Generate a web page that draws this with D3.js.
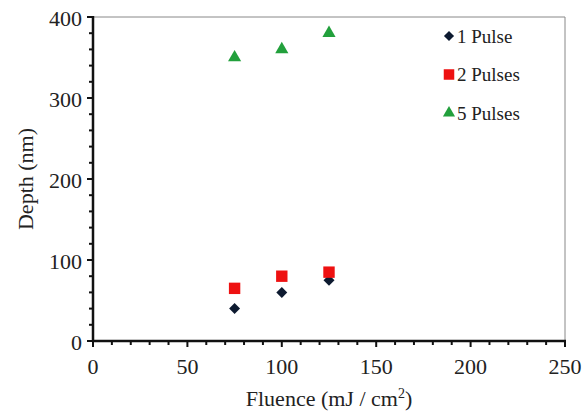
<!DOCTYPE html>
<html>
<head>
<meta charset="utf-8">
<script src="https://cdn.jsdelivr.net/npm/d3@7"></script>
<style>
  body { margin: 0; background: #fff; }
</style>
</head>
<body>
<svg id="svg" width="582" height="414"></svg>
<script>
// DATA
const fluence = [75, 100, 125];
const pulse1 = [40, 60, 75];
const pulse2 = [65, 80, 85];
const pulse5 = [350, 360, 380];
const seriesNames = ["1 Pulse", "2 Pulses", "5 Pulses"];
const xTicks = [0, 50, 100, 150, 200, 250];
const yTicks = [0, 100, 200, 300, 400];

const margin = { left: 93, top: 17, right: 17, bottom: 73 };
const W = 582, H = 414;
const FONT = "'Liberation Serif'";
const textColor = "#222";

const x = d3.scaleLinear().domain([0, 250]).range([margin.left, W - margin.right]);
const y = d3.scaleLinear().domain([0, 400]).range([H - margin.bottom, margin.top]);

const svg = d3.select("#svg");

// diamond = square turned 45 degrees
const diamond = {
  draw(ctx, size) {
    const r = Math.sqrt(size / 2);
    ctx.moveTo(0, -r); ctx.lineTo(r, 0); ctx.lineTo(0, r); ctx.lineTo(-r, 0); ctx.closePath();
  }
};

const series = [
  { name: seriesNames[0], values: pulse1, symbol: diamond, size: 60, color: "#0d1a30" },
  { name: seriesNames[1], values: pulse2, symbol: d3.symbolSquare, size: 130, color: "#ee1111" },
  { name: seriesNames[2], values: pulse5, symbol: d3.symbolTriangle, size: 75, color: "#22a03c" }
];

function txt(sel, size) {
  return sel.style("font-family", FONT).style("font-size", size + "px").attr("fill", textColor);
}

// frame (top / right thin grey)
svg.append("path")
  .attr("d", `M${x(0)},${y(400)}H${x(250)}V${y(0)}`)
  .attr("fill", "none")
  .attr("stroke", "#888")
  .attr("stroke-width", 1);

const gx = svg.append("g").attr("transform", `translate(0,${y(0)})`);
gx.selectAll("line")
  .data(d3.range(0, 251, 10))
  .join("line")
  .attr("x1", d => x(d)).attr("x2", d => x(d))
  .attr("y1", 0).attr("y2", d => d % 50 === 0 ? 6 : 4)
  .attr("stroke", "#111").attr("stroke-width", 2);
gx.append("line")
  .attr("x1", x(0) - 1).attr("x2", x(250) + 1)
  .attr("stroke", "#111").attr("stroke-width", 2.5);
gx.selectAll("text")
  .data(xTicks)
  .join("text")
  .attr("x", d => x(d))
  .attr("y", 33)
  .attr("text-anchor", "middle")
  .call(txt, 22)
  .text(d => d);

const gy = svg.append("g").attr("transform", `translate(${x(0)},0)`);
gy.selectAll("line")
  .data(d3.range(0, 401, 20))
  .join("line")
  .attr("y1", d => y(d)).attr("y2", d => y(d))
  .attr("x1", 0).attr("x2", d => d % 100 === 0 ? -6 : -4)
  .attr("stroke", "#111").attr("stroke-width", 2);
gy.append("line")
  .attr("y1", y(0) + 1).attr("y2", y(400) - 1)
  .attr("stroke", "#111").attr("stroke-width", 2.5);
gy.selectAll("text")
  .data(yTicks)
  .join("text")
  .attr("x", -11)
  .attr("y", d => y(d) + 1)
  .attr("dy", "0.35em")
  .attr("text-anchor", "end")
  .call(txt, 22)
  .text(d => d);

// axis titles
svg.append("text")
  .attr("x", (x(0) + x(250)) / 2)
  .attr("y", 406)
  .attr("text-anchor", "middle")
  .call(txt, 22)
  .html('Fluence (mJ / cm<tspan dy="-8" style="font-size:14px">2</tspan><tspan dy="8">)</tspan>');

svg.append("text")
  .attr("transform", `translate(33,${(y(0) + y(400)) / 2}) rotate(-90)`)
  .attr("text-anchor", "middle")
  .call(txt, 22)
  .text("Depth (nm)");

// points
series.forEach(s => {
  svg.append("g")
    .selectAll("path")
    .data(fluence.map((f, i) => [f, s.values[i]]))
    .join("path")
    .attr("transform", d => `translate(${x(d[0])},${y(d[1])})`)
    .attr("d", d3.symbol().type(s.symbol).size(s.size))
    .attr("fill", s.color);
});

// legend
const legend = svg.append("g");
series.forEach((s, i) => {
  const ly = 36 + i * 38.5;
  legend.append("path")
    .attr("transform", `translate(449,${ly})`)
    .attr("d", d3.symbol().type(s.symbol).size(s.size * 0.85))
    .attr("fill", s.color);
  legend.append("text")
    .attr("x", 457)
    .attr("y", ly)
    .attr("dy", "0.35em")
    .call(txt, 19)
    .text(s.name);
});
</script>
</body>
</html>
